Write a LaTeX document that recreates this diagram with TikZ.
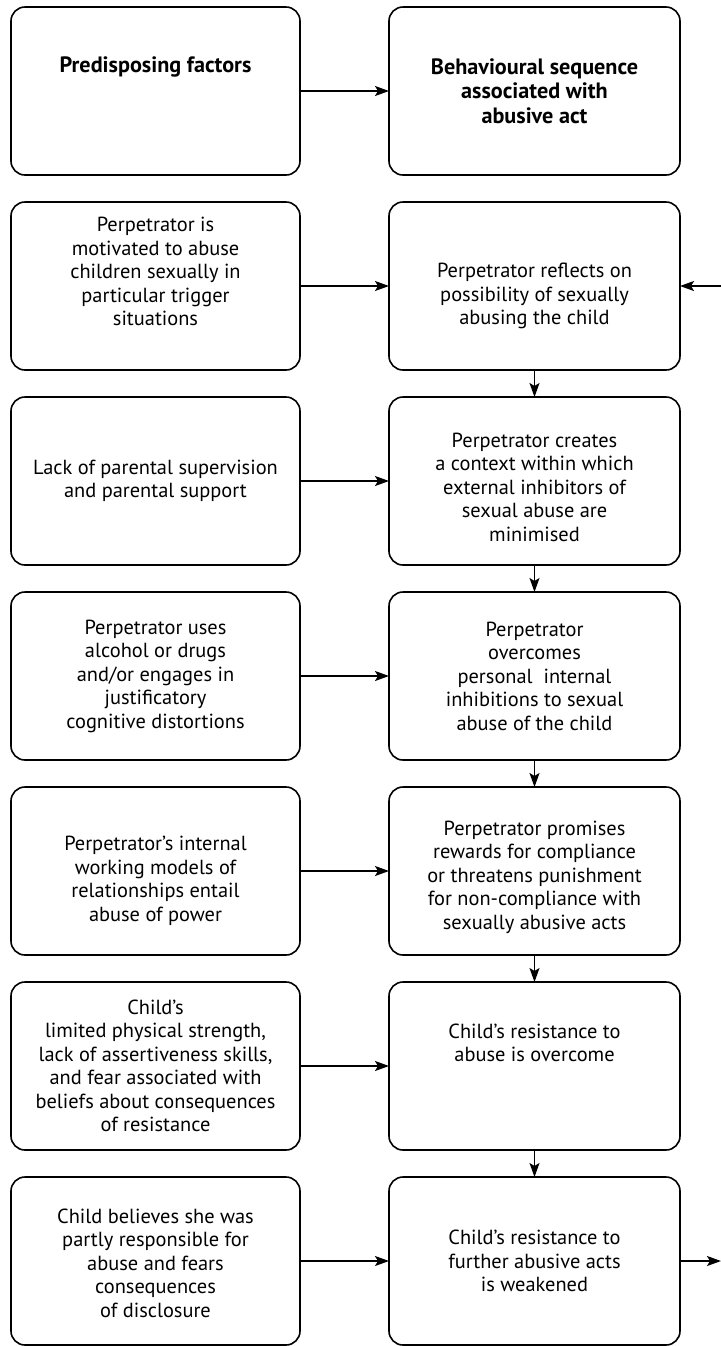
\documentclass[tikz,border=0pt]{standalone}
\usepackage{fontspec}
\setmainfont{PT Sans}
\usepackage{tikz}
\usetikzlibrary{arrows.meta,positioning}

\begin{document}
\begin{tikzpicture}[
  node distance=13.5pt and 44.5pt,
  box/.style={rounded corners=7pt,draw=black,line width=0.8pt,
              minimum height=84pt,minimum width=144.5pt,inner sep=0pt,outer sep=0pt},
  seqbox/.style={box,minimum width=145.5pt},
  txt/.style={align=center,inner sep=0pt,font=\fontsize{10.2}{11.75}\selectfont},
  head/.style={txt,font=\fontsize{11.1}{12.25}\selectfont\bfseries},
  arr/.style={-{Stealth[length=7pt,width=5pt,inset=1.5pt]},line width=0.7pt}
]
\useasboundingbox (0,0) rectangle (360.5pt,-673pt);
\node[box] (predisp) at (77.75pt,-45.5pt) {};
\node[seqbox,right=of predisp] (sequence) {};
\node[box,below=of predisp] (motive) {};
\node[seqbox,below=of sequence] (reflect) {};
\node[box,below=of motive] (supervision) {};
\node[seqbox,below=of reflect] (context) {};
\node[box,below=of supervision] (drugs) {};
\node[seqbox,below=of context] (inhibit) {};
\node[box,below=of drugs] (models) {};
\node[seqbox,below=of inhibit] (promise) {};
\node[box,below=of models] (strength) {};
\node[seqbox,below=of promise] (resist) {};
\node[box,below=of strength] (blame) {};
\node[seqbox,below=of resist] (weaken) {};
\coordinate[right=20.5pt of reflect] (loopin);
\coordinate[right=20.5pt of weaken] (loopout);
\node[head,yshift=12pt] (predisp-txt) at (predisp) {Predisposing factors};
\node[head] (sequence-txt) at (sequence)
 {Behavioural sequence\\associated with\\abusive act};
\node[txt,yshift=7.25pt] (motive-txt) at (motive)
 {Perpetrator is\\motivated to abuse\\children sexually in\\particular trigger\\situations};
\node[txt,yshift=-5pt] (reflect-txt) at (reflect)
 {Perpetrator reflects on\\possibility of sexually\\abusing the child};
\node[txt] (supervision-txt) at (supervision)
 {Lack of parental supervision\\and parental support};
\node[txt,yshift=-3pt] (context-txt) at (context)
 {Perpetrator creates\\a context within which\\external inhibitors of\\sexual abuse are\\minimised};
\node[txt] (drugs-txt) at (drugs)
 {Perpetrator uses\\alcohol or drugs\\and/or engages in\\justificatory\\cognitive distortions};
\node[txt] (inhibit-txt) at (inhibit)
 {Perpetrator\\overcomes\\personal\ \ internal\\inhibitions to sexual\\abuse of the child};
\node[txt,yshift=-5pt] (models-txt) at (models)
 {Perpetrator's internal\\working models of\\relationships entail\\abuse of power};
\node[txt,yshift=-3pt] (promise-txt) at (promise)
 {Perpetrator promises\\rewards for compliance\\or threatens punishment\\for non-compliance with\\sexually abusive acts};
\node[txt] (strength-txt) at (strength)
 {Child's\\limited physical strength,\\lack of assertiveness skills,\\and fear associated with\\beliefs about consequences\\of resistance};
\node[txt,yshift=11.5pt] (resist-txt) at (resist)
 {Child's resistance to\\abuse is overcome};
\node[txt,yshift=-1pt] (blame-txt) at (blame)
 {Child believes she was\\partly responsible for\\abuse and fears\\consequences\\of disclosure};
\node[txt] (weaken-txt) at (weaken)
 {Child's resistance to\\further abusive acts\\is weakened};
\draw[arr] (predisp) -- (sequence);
\draw[arr] (motive) -- (reflect);
\draw[arr] (supervision) -- (context);
\draw[arr] (drugs) -- (inhibit);
\draw[arr] (models) -- (promise);
\draw[arr] (strength) -- (resist);
\draw[arr] (blame) -- (weaken);
\draw[arr] (reflect) -- (context);
\draw[arr] (context) -- (inhibit);
\draw[arr] (inhibit) -- (promise);
\draw[arr] (promise) -- (resist);
\draw[arr] (resist) -- (weaken);
\draw[arr] (loopin) -- (reflect);
\draw[arr] (weaken) -- (loopout);
\end{tikzpicture}
\end{document}
